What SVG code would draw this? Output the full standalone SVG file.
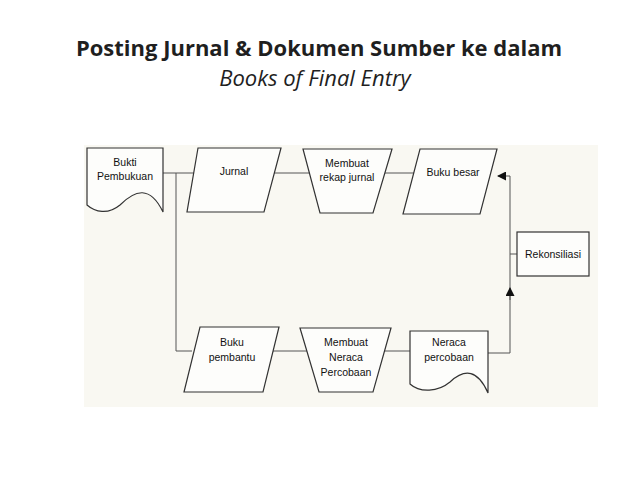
<svg xmlns="http://www.w3.org/2000/svg" width="638" height="479" viewBox="0 0 638 479">
<style>
.t{font-family:"Open Sans","Liberation Sans",sans-serif;font-size:22px;fill:#1f1f1f;text-anchor:middle}
.s{fill:#fdfdfb;stroke:#333;stroke-width:1.2}
.l{font-family:"Liberation Sans",Arial,sans-serif;font-size:10.5px;fill:#111;text-anchor:middle}
.c{fill:none;stroke:#555;stroke-width:1}
</style>
<defs><marker id="a" markerWidth="9" markerHeight="9" refX="8" refY="4.5" orient="auto" markerUnits="userSpaceOnUse"><path d="M0,0L9,4.5L0,9Z" fill="#111"/></marker></defs>
<rect width="638" height="479" fill="#fff"/>
<text class="t" x="319" y="56" font-weight="bold">Posting Jurnal &amp; Dokumen Sumber  ke dalam</text>
<text class="t" x="315" y="86" font-style="italic">Books of Final Entry</text>
<rect x="84" y="145" width="514" height="262" fill="#f9f8f2"/>
<g id="connectors">
<path class="c" d="M163,173H420"/>
<path class="c" d="M176,173V351H192"/>
<path class="c" d="M271,351H310M382,351H412"/>
<path class="c" d="M488,353H510V176"/>
<path class="c" d="M510,176H498" marker-end="url(#a)"/>
<path class="c" d="M510,300V288" marker-end="url(#a)"/>
<path class="c" d="M510,254H517"/>
</g>
<g id="bukti"><path class="s" d="M87,148H163V212C150,185 135,190 120,205C108,215 95,212 87,205Z"/><text class="l" x="125" y="166">Bukti</text><text class="l" x="125" y="180">Pembukuan</text></g>
<g id="jurnal"><path class="s" d="M198,148H281L264,212H187Z"/><text class="l" x="234" y="175">Jurnal</text></g>
<g id="rekap"><path class="s" d="M303,149H392L373,213H320Z"/><text class="l" x="347" y="167">Membuat</text><text class="l" x="347" y="181">rekap jurnal</text></g>
<g id="bukubesar"><path class="s" d="M420,149H497L480,214H403Z"/><text class="l" x="453" y="176">Buku besar</text></g>
<g id="rekonsiliasi"><rect class="s" x="517" y="232" width="72" height="44"/><text class="l" x="553" y="258">Rekonsiliasi</text></g>
<g id="pembantu"><path class="s" d="M200,327H279L263,392H184Z"/><text class="l" x="232" y="346">Buku</text><text class="l" x="232" y="361">pembantu</text></g>
<g id="neracaproc"><path class="s" d="M300,328H391L373,392H319Z"/><text class="l" x="346" y="346">Membuat</text><text class="l" x="346" y="361">Neraca</text><text class="l" x="346" y="376">Percobaan</text></g>
<g id="neraca"><path class="s" d="M410,331H488V393C478,370 465,368 450,382C438,392 420,393 410,384Z"/><text class="l" x="449" y="346">Neraca</text><text class="l" x="449" y="361">percobaan</text></g>
</svg>
